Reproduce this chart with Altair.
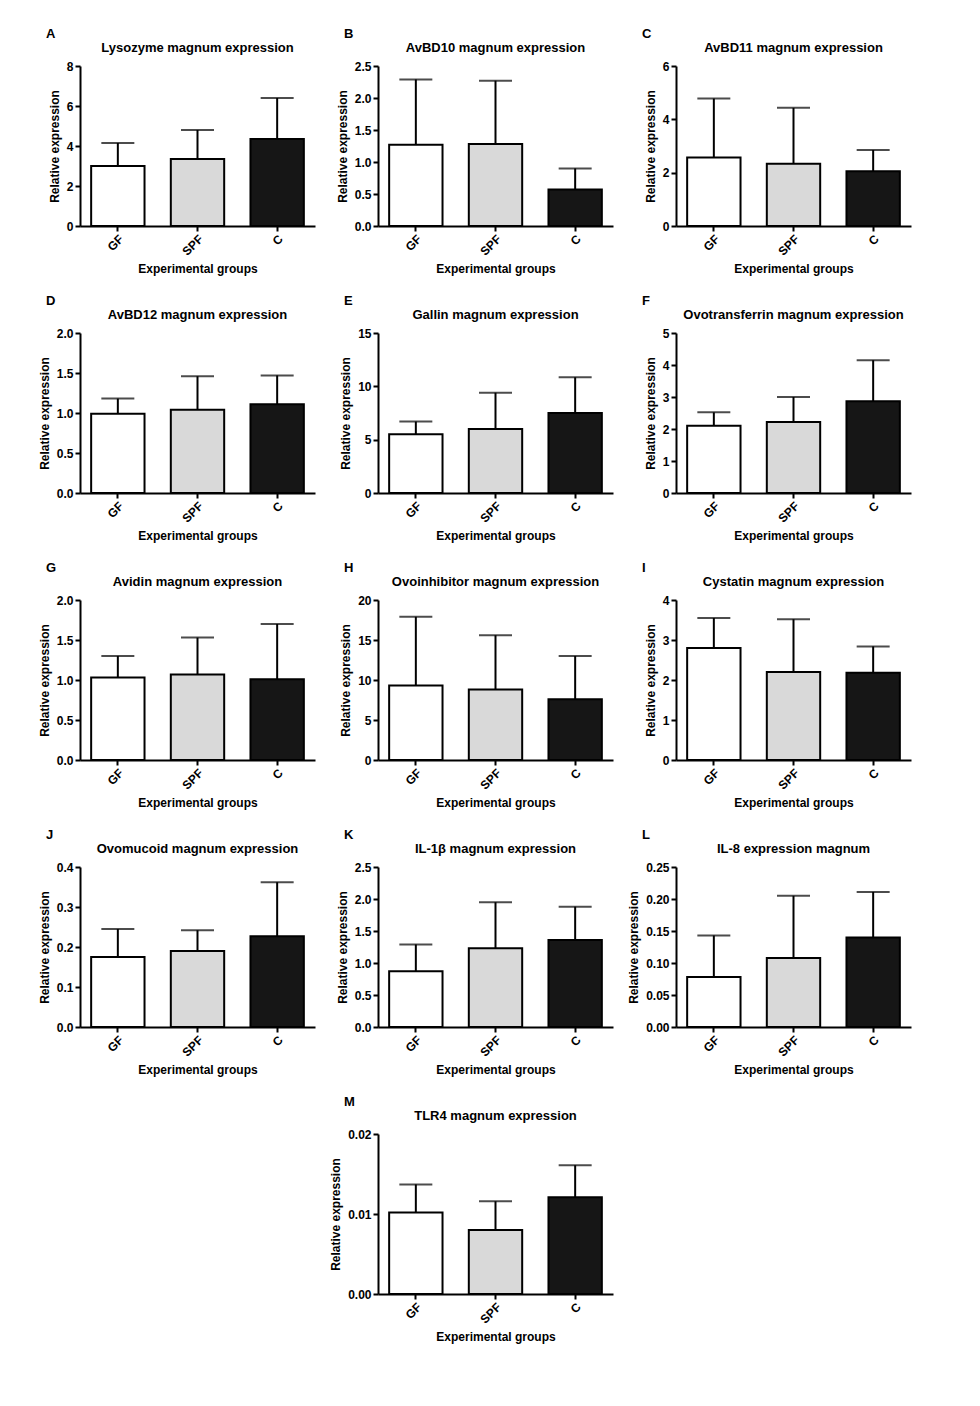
import altair as alt
import pandas as pd

groups = ["GF", "SPF", "C"]
fills = ["#ffffff", "#d9d9d9", "#161616"]

letters = ["A", "B", "C", "D", "E", "F", "G", "H", "I", "J", "K", "L", "M"]
titles = [
    "Lysozyme magnum expression",
    "AvBD10 magnum expression",
    "AvBD11 magnum expression",
    "AvBD12 magnum expression",
    "Gallin magnum expression",
    "Ovotransferrin magnum expression",
    "Avidin magnum expression",
    "Ovoinhibitor magnum expression",
    "Cystatin magnum expression",
    "Ovomucoid magnum expression",
    "IL-1\u03b2 magnum expression",
    "IL-8 expression magnum",
    "TLR4 magnum expression",
]

lysozyme_mean = [3.0, 3.35, 4.35]
lysozyme_upper = [4.15, 4.8, 6.4]
avbd10_mean = [1.27, 1.28, 0.57]
avbd10_upper = [2.29, 2.27, 0.90]
avbd11_mean = [2.57, 2.33, 2.05]
avbd11_upper = [4.78, 4.43, 2.85]
avbd12_mean = [0.99, 1.04, 1.11]
avbd12_upper = [1.18, 1.46, 1.47]
gallin_mean = [5.5, 6.0, 7.5]
gallin_upper = [6.7, 9.4, 10.85]
ovotransferrin_mean = [2.1, 2.22, 2.87]
ovotransferrin_upper = [2.52, 3.0, 4.15]
avidin_mean = [1.03, 1.07, 1.01]
avidin_upper = [1.30, 1.53, 1.70]
ovoinhibitor_mean = [9.3, 8.8, 7.6]
ovoinhibitor_upper = [17.9, 15.6, 13.0]
cystatin_mean = [2.8, 2.2, 2.18]
cystatin_upper = [3.55, 3.52, 2.84]
ovomucoid_mean = [0.175, 0.19, 0.227]
ovomucoid_upper = [0.245, 0.242, 0.362]
il1b_mean = [0.87, 1.23, 1.36]
il1b_upper = [1.29, 1.95, 1.88]
il8_mean = [0.078, 0.108, 0.140]
il8_upper = [0.143, 0.205, 0.211]
tlr4_mean = [0.0102, 0.0080, 0.0121]
tlr4_upper = [0.0137, 0.0116, 0.0161]

means = [lysozyme_mean, avbd10_mean, avbd11_mean, avbd12_mean, gallin_mean,
         ovotransferrin_mean, avidin_mean, ovoinhibitor_mean, cystatin_mean,
         ovomucoid_mean, il1b_mean, il8_mean, tlr4_mean]
uppers = [lysozyme_upper, avbd10_upper, avbd11_upper, avbd12_upper, gallin_upper,
          ovotransferrin_upper, avidin_upper, ovoinhibitor_upper, cystatin_upper,
          ovomucoid_upper, il1b_upper, il8_upper, tlr4_upper]

y_ticks = [
    [0, 2, 4, 6, 8],
    [0, 0.5, 1.0, 1.5, 2.0, 2.5],
    [0, 2, 4, 6],
    [0, 0.5, 1.0, 1.5, 2.0],
    [0, 5, 10, 15],
    [0, 1, 2, 3, 4, 5],
    [0, 0.5, 1.0, 1.5, 2.0],
    [0, 5, 10, 15, 20],
    [0, 1, 2, 3, 4],
    [0, 0.1, 0.2, 0.3, 0.4],
    [0, 0.5, 1.0, 1.5, 2.0, 2.5],
    [0, 0.05, 0.10, 0.15, 0.20, 0.25],
    [0, 0.01, 0.02],
]
y_formats = ["d", ".1f", "d", ".1f", "d", "d", ".1f", "d", "d", ".1f", ".1f", ".2f", ".2f"]

FONT = "Liberation Sans"
W, H = 235, 160

AX = dict(
    grid=False, domainColor="black", domainWidth=2, tickColor="black", tickWidth=2,
    tickSize=5, labelColor="black", labelFont=FONT, labelFontWeight="bold",
    labelFontSize=12, labelPadding=2, titleColor="black", titleFont=FONT,
    titleFontWeight="bold", titleFontSize=12, labelOverlap=False,
)


def panel(letter, title, mean, upper, ticks, fmt):
    df = pd.DataFrame({"group": groups, "mean": mean, "upper": upper, "fill": fills})
    xscale = alt.Scale(paddingInner=0.33, paddingOuter=0.14)
    xaxis = alt.Axis(title="Experimental groups", labelAngle=-45, titlePadding=6, **AX)
    yscale = alt.Scale(domain=[0, ticks[-1]], nice=False, zero=True)
    yaxis = alt.Axis(title="Relative expression", values=ticks, format=fmt,
                     titlePadding=5, labelFlush=False, **AX)
    x = alt.X("group:N", sort=groups, scale=xscale, axis=xaxis)
    base = alt.Chart(df)
    bars = base.mark_bar(stroke="black", strokeWidth=2).encode(
        x=x,
        y=alt.Y("mean:Q", scale=yscale, axis=yaxis),
        fill=alt.Fill("fill:N", scale=None),
    )
    rule = base.mark_rule(color="black", strokeWidth=2).encode(
        x=x,
        y=alt.Y("mean:Q", scale=yscale, axis=yaxis),
        y2="upper:Q",
    )
    cap = base.mark_tick(color="black", thickness=2, size=33).encode(
        x=x,
        y=alt.Y("upper:Q", scale=yscale, axis=yaxis),
    )
    lab = alt.Chart(pd.DataFrame({"t": [letter]})).mark_text(
        font=FONT, fontSize=13, fontWeight="bold", color="black", align="left", baseline="middle"
    ).encode(text="t:N", x=alt.value(-34), y=alt.value(-32))
    ttl = alt.Chart(pd.DataFrame({"t": [title]})).mark_text(
        font=FONT, fontSize=13, fontWeight="bold", color="black", align="center", baseline="middle"
    ).encode(text="t:N", x=alt.value(W / 2), y=alt.value(-18))
    return alt.layer(bars, rule, cap, lab, ttl).properties(width=W, height=H)


panels = [panel(letters[i], titles[i], means[i], uppers[i], y_ticks[i], y_formats[i]) for i in range(12)]
blank = alt.Chart(pd.DataFrame({"a": [0]})).mark_point(opacity=0).encode(
    x=alt.X("a:Q", axis=None), y=alt.Y("a:Q", axis=None)
).properties(width=W, height=H)
panels.append(blank)
panels.append(panel(letters[12], titles[12], means[12], uppers[12], y_ticks[12], y_formats[12]))

chart = alt.concat(
    *panels, columns=3, spacing={"row": 107, "column": 63}, bounds="flush"
).properties(
    padding={"left": 30, "top": 20, "right": 5, "bottom": 5}
).configure_view(stroke=None)

chart.save("out.html", embed_options={"renderer": "svg", "actions": False})
